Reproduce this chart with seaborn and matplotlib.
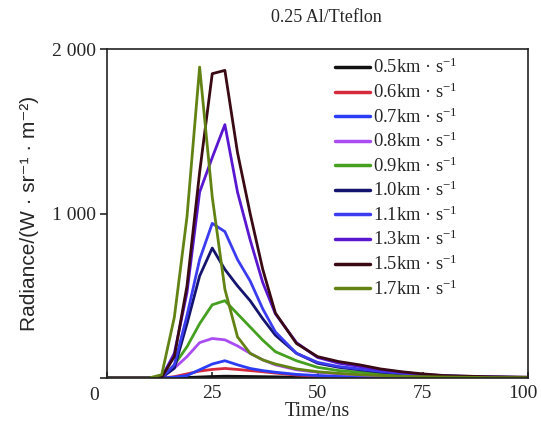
import pandas as pd
import seaborn as sns
import matplotlib.pyplot as plt
from matplotlib.transforms import ScaledTranslation

# time grid (ns) shared by every curve
time_ns = [0, 10, 13, 16, 19, 22, 25, 28, 31, 34, 37, 40, 45, 50, 55, 60, 65, 70, 75, 80, 90, 100]

# radiance, one list per impact speed
v05 = [0, 0, 0, 1, 3, 6, 9, 11, 10, 9, 8, 7, 5, 4, 3, 2, 2, 1, 1, 1, 0, 0]
v06 = [0, 0, 0, 8, 25, 42, 52, 58, 52, 45, 38, 30, 18, 12, 8, 6, 4, 3, 2, 1, 1, 0]
v07 = [0, 0, 0, 5, 15, 50, 85, 105, 80, 58, 45, 35, 22, 15, 10, 8, 6, 4, 3, 2, 1, 1]
v08 = [0, 0, 5, 60, 130, 215, 240, 232, 195, 150, 110, 80, 50, 35, 25, 18, 13, 9, 6, 4, 2, 1]
v09 = [0, 0, 2, 80, 190, 330, 445, 470, 390, 310, 230, 160, 105, 65, 45, 35, 25, 18, 12, 8, 4, 2]
v10 = [0, 0, 2, 60, 330, 620, 790, 660, 560, 470, 360, 260, 150, 90, 65, 50, 36, 25, 16, 10, 5, 3]
v11 = [0, 0, 3, 80, 380, 720, 940, 890, 720, 590, 420, 280, 150, 95, 70, 55, 40, 28, 18, 12, 6, 3]
v13 = [0, 0, 5, 150, 520, 1130, 1340, 1540, 1130, 840, 580, 390, 215, 125, 90, 70, 50, 35, 22, 14, 7, 4]
v15 = [0, 0, 5, 130, 560, 1250, 1850, 1870, 1370, 1000, 660, 395, 210, 130, 100, 80, 55, 38, 25, 15, 8, 5]
v17 = [0, 0, 20, 370, 980, 1890, 1100, 540, 250, 150, 110, 85, 55, 38, 28, 20, 15, 11, 8, 6, 3, 2]

speeds = ["0.5", "0.6", "0.7", "0.8", "0.9", "1.0", "1.1", "1.3", "1.5", "1.7"]
series = [v05, v06, v07, v08, v09, v10, v11, v13, v15, v17]
colors = ["#111111", "#d42a3c", "#2a3cf5", "#a94cf2", "#45a020",
          "#14146e", "#3b3bf0", "#5a17d0", "#3a0a14", "#628214"]

labels = [s + "km · s$^{-1}$" for s in speeds]

df = pd.concat([pd.DataFrame({"Time": time_ns, "Radiance": vals, "speed": lab})
                for lab, vals in zip(labels, series)])

sns.set_style("ticks")
plt.rcParams["font.family"] = ["Liberation Serif", "DejaVu Serif"]
plt.rcParams["mathtext.fontset"] = "custom"
plt.rcParams["mathtext.rm"] = "Liberation Serif"
plt.rcParams["mathtext.it"] = "Liberation Serif:italic"

fig = plt.figure(figsize=(5.41, 4.26), dpi=100)
ax = fig.add_axes([107 / 541, 1 - 378 / 426, 421 / 541, 329 / 426])

sns.lineplot(data=df, x="Time", y="Radiance", hue="speed",
             palette=dict(zip(labels, colors)), linewidth=2.0, ax=ax)

ax.set_xlim(0, 100)
ax.set_ylim(0, 2000)
ax.set_xticks([0, 25, 50, 75, 100])
ax.set_xticklabels(["", "25", "50", "75", "100"], fontsize=14)
ax.set_yticks([0, 1000, 2000])
ax.set_yticklabels(["", "1 000", "2 000"], fontsize=14)
ax.tick_params(axis="x", direction="in", length=4, width=1.2, pad=5)
ax.tick_params(axis="y", direction="out", length=5, width=1.2, pad=3)
for sp in ax.spines.values():
    sp.set_linewidth(1.2)
    sp.set_color("#222222")

# nudge "100" left so it stays inside the figure
last = ax.get_xticklabels()[-1]
last.set_transform(last.get_transform() + ScaledTranslation(-4 / 72, 0, fig.dpi_scale_trans))

ax.set_xlabel("Time/ns", fontsize=14.5)
ax.xaxis.set_label_coords(0.5, -(412 - 378) / 329)
ax.set_ylabel("Radiance/(W · sr⁻¹ · m⁻²)", fontsize=15,
              family=["Liberation Sans", "DejaVu Sans"])
ax.yaxis.set_label_coords(-(107 - 30) / 421, 0.5)
ax.yaxis.label.set_va("center")
ax.xaxis.label.set_va("center")

fig.text(326 / 541, 1 - 18 / 426, "0.25 Al/Tteflon", fontsize=13,
         ha="center", va="center")

# shared origin label
fig.text(94 / 541, 1 - 396 / 426, "0", fontsize=14, ha="center", va="center")

leg = ax.legend(loc="upper left", frameon=False, fontsize=13.3,
                handlelength=1.9, labelspacing=0.28, handletextpad=0.15,
                borderpad=0, borderaxespad=0,
                bbox_to_anchor=((335 - 107) / 421, (378 - 58) / 329))
for ln in leg.get_lines():
    ln.set_linewidth(2.5)

plt.savefig("out.png", dpi=100)
